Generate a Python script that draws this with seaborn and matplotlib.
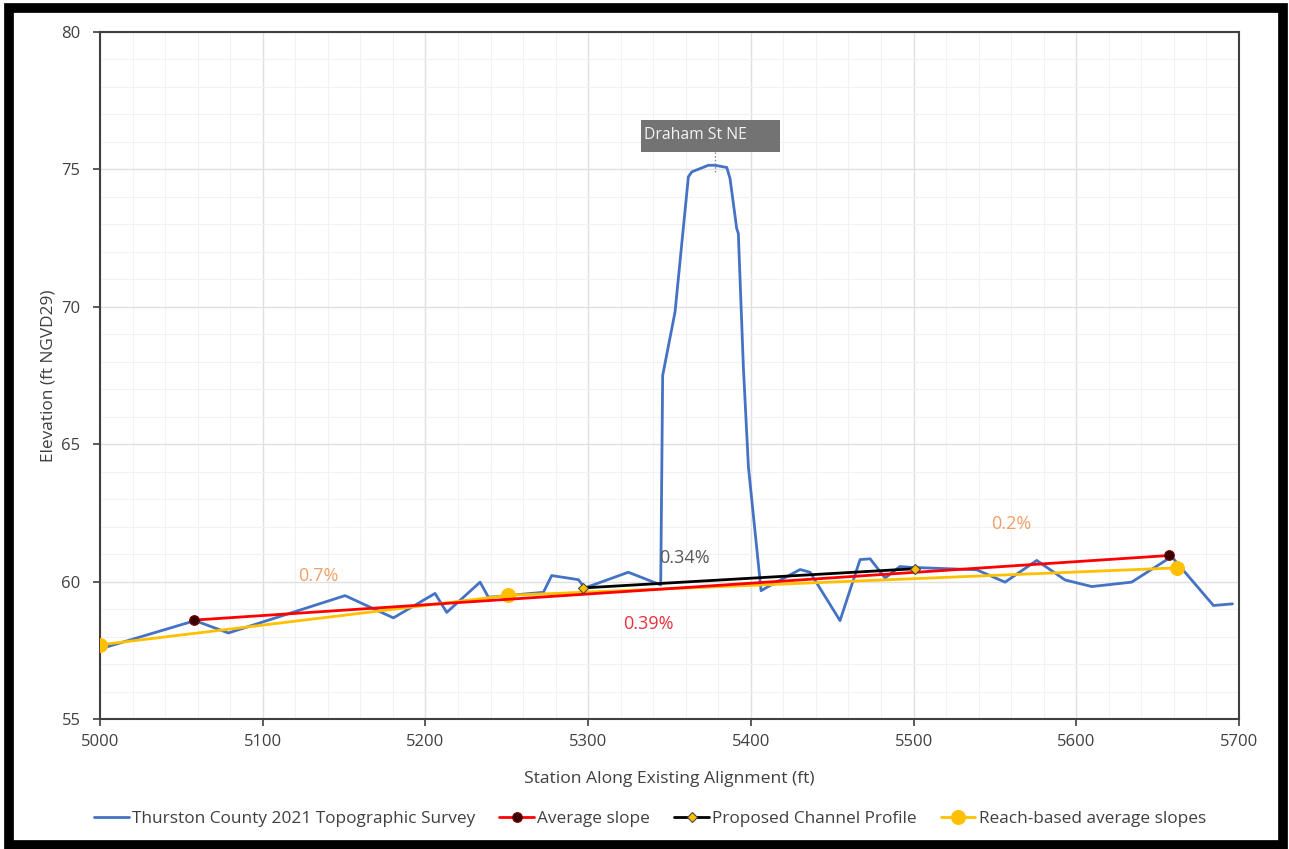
import matplotlib
matplotlib.use("Agg")
import matplotlib.pyplot as plt
import matplotlib.patches as mpatches
from matplotlib.ticker import MultipleLocator
import seaborn as sns

# survey profile
survey_x = [5000, 5058.4, 5078.9, 5150.6, 5180.3, 5205.9, 5213.1, 5233.6, 5238.7,
            5272.5, 5277.6, 5294, 5298, 5324.7, 5344.6, 5345.8, 5353.4, 5361.6,
            5363.7, 5373.9, 5378, 5385.2, 5387.2, 5391.3, 5392.3, 5395.4, 5398.5,
            5406.3, 5410.7, 5430.3, 5436.4, 5454.8, 5467.1, 5473.3, 5482.5, 5491.7,
            5497.8, 5538.8, 5556.2, 5575.7, 5593.1, 5609.5, 5634, 5658.6, 5684.3, 5696]
survey_y = [57.55, 58.58, 58.13, 59.49, 58.68, 59.57, 58.88, 59.98, 59.43,
            59.61, 60.22, 60.07, 59.77, 60.34, 59.88, 67.5, 69.81, 74.73,
            74.91, 75.15, 75.15, 75.07, 74.67, 72.85, 72.67, 67.81, 64.17,
            59.67, 59.82, 60.44, 60.34, 58.58, 60.8, 60.83, 60.13, 60.55,
            60.52, 60.43, 59.98, 60.77, 60.06, 59.82, 59.98, 60.91, 59.13, 59.19]

avg_x = [5058, 5657]
avg_y = [58.6, 60.95]

prop_x = [5297, 5501]
prop_y = [59.77, 60.47]

reach_x = [5000, 5251, 5662]
reach_y = [57.7, 59.5, 60.5]

slope_labels = ["0.7%", "0.39%", "0.34%", "0.2%"]
label_x = [5134, 5337, 5359, 5560]
label_y = [60.2, 58.45, 60.87, 62.08]
label_colors = ["#F0A068", "#E8303A", "#595959", "#F0A068"]

sns.set_style("white")
plt.rcParams["font.family"] = ["Open Sans", "DejaVu Sans"]

fig = plt.figure(figsize=(12.89, 8.49), dpi=100)
ax = fig.add_axes([100 / 1289, 1 - 719 / 849, 1139 / 1289, 687 / 849])

sns.lineplot(x=survey_x, y=survey_y, ax=ax, color="#4472C4", lw=2, sort=False,
             estimator=None, label="Thurston County 2021 Topographic Survey", zorder=3)
sns.lineplot(x=avg_x, y=avg_y, ax=ax, color="#FF0000", lw=2, marker="o", ms=7,
             mfc="#3A0000", mec="#7A0000", label="Average slope", zorder=4)
sns.lineplot(x=prop_x, y=prop_y, ax=ax, color="black", lw=2, marker="D", ms=5,
             mfc="#FFC000", mec="#404040", label="Proposed Channel Profile", zorder=5)
sns.lineplot(x=reach_x, y=reach_y, ax=ax, color="#FFC000", lw=2, marker="o", ms=10,
             mfc="#FFC000", mec="#FFC000", label="Reach-based average slopes", zorder=3.5)

for t, xx, yy, c in zip(slope_labels, label_x, label_y, label_colors):
    ax.text(xx, yy, t, color=c, fontsize=13, ha="center", va="center", zorder=6)

# road callout
ax.plot([5378, 5378], [75.63, 74.9], ls=":", color="#808080", lw=1, zorder=6)
ax.add_patch(mpatches.Rectangle((5332.5, 75.63), 85.5, 1.17, fc="#737373", ec="none", zorder=7))
ax.text(5334.5, 76.25, "Draham St NE", color="#F2F2F2", fontsize=11.3, ha="left",
        va="center", zorder=8)

ax.set_xlim(5000, 5700)
ax.set_ylim(55, 80)
ax.xaxis.set_major_locator(MultipleLocator(100))
ax.xaxis.set_minor_locator(MultipleLocator(20))
ax.yaxis.set_major_locator(MultipleLocator(5))
ax.yaxis.set_minor_locator(MultipleLocator(1))
ax.grid(which="major", color="#E0E0E0", lw=1)
ax.grid(which="minor", color="#F2F2F2", lw=0.8)
ax.set_axisbelow(True)
for s in ax.spines.values():
    s.set_color("#404040")
    s.set_linewidth(1.5)
ax.tick_params(which="major", direction="out", length=5, width=1.2, color="#404040",
               labelsize=12, labelcolor="#404040", bottom=True, left=True)
ax.tick_params(axis="x", which="major", pad=6)
ax.tick_params(axis="y", which="major", pad=9)
ax.tick_params(which="minor", length=0)

ax.set_xlabel("Station Along Existing Alignment (ft)", fontsize=12.6, color="#404040")
ax.set_ylabel("Elevation (ft NGVD29)", fontsize=12.4, color="#404040")
ax.xaxis.set_label_coords(0.5, -0.075)
ax.yaxis.set_label_coords(-0.0386, 0.5)

ax.legend(loc="center", bbox_to_anchor=(0.483, -0.145), ncol=4, frameon=False,
          fontsize=12.4, handlelength=2, handletextpad=0.2, columnspacing=1.4,
          labelcolor="#404040")

# outer frame
fig.patches.append(mpatches.Rectangle((9 / 1289, 4 / 849), 1274 / 1289, 837 / 849,
                                      transform=fig.transFigure, fill=False,
                                      ec="black", lw=7, zorder=10))

fig.savefig("out.png", dpi=100)
